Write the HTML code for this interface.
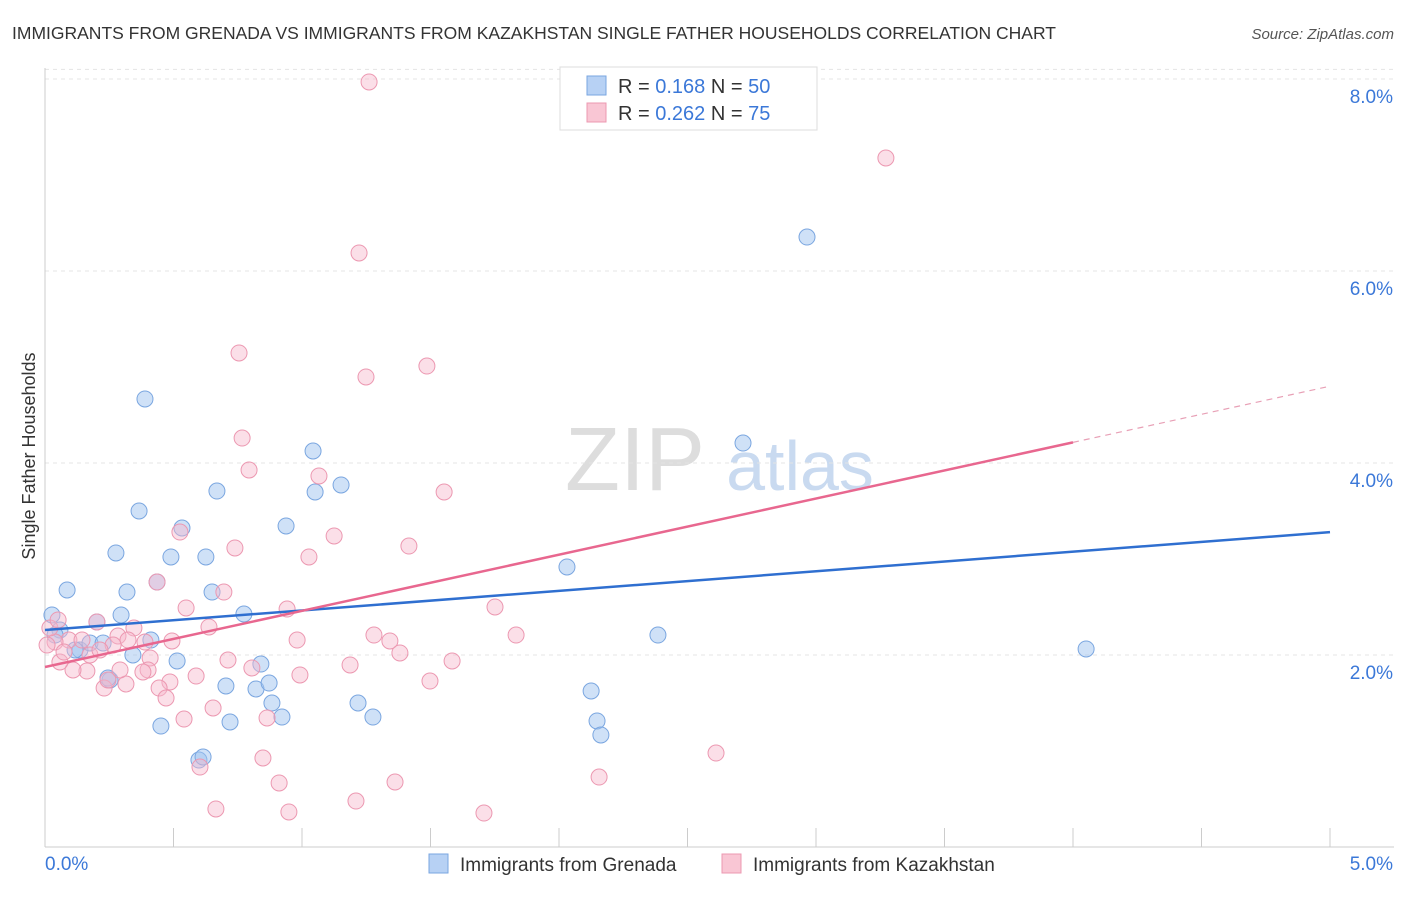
<!DOCTYPE html>
<html><head><meta charset="utf-8"><style>
body{margin:0;background:#fff;font-family:"Liberation Sans",sans-serif}
svg text{font-family:"Liberation Sans",sans-serif}
</style></head><body>
<svg id="c" width="1406" height="892">
<text x="12" y="39" font-size="17.5" fill="#333">IMMIGRANTS FROM GRENADA VS IMMIGRANTS FROM KAZAKHSTAN SINGLE FATHER HOUSEHOLDS CORRELATION CHART</text>
<text x="1394" y="39" font-size="15" fill="#555" font-style="italic" text-anchor="end">Source: ZipAtlas.com</text>
<text x="35" y="456" font-size="18" fill="#333" text-anchor="middle" transform="rotate(-90 35 456)">Single Father Households</text>
<g><text x="635" y="490" font-size="90" fill="#ddd" font-family="Liberation Serif" text-anchor="middle">ZIP</text><text x="800" y="490" font-size="70" fill="#c9daf0" text-anchor="middle">atlas</text></g>
<g id="grid"></g><g id="ticks"></g><g id="pts"></g><g id="lines"></g>
<g>
<rect x="560" y="67" width="257" height="63" fill="#fff" stroke="#ddd"/>
<rect x="587" y="76" width="19" height="19" fill="#b7d1f4" stroke="#7aa6e0"/>
<text x="618" y="93" font-size="20" fill="#333">R = <tspan fill="#3b78d8">0.168</tspan>   N = <tspan fill="#3b78d8">50</tspan></text>
<rect x="587" y="103" width="19" height="19" fill="#f9c6d4" stroke="#ec98b1"/>
<text x="618" y="120" font-size="20" fill="#333">R = <tspan fill="#3b78d8">0.262</tspan>   N = <tspan fill="#3b78d8">75</tspan></text>
</g>
<g>
<rect x="429" y="854" width="19" height="19" fill="#b7d1f4" stroke="#7aa6e0"/>
<text x="460" y="871" font-size="19" fill="#333">Immigrants from Grenada</text>
<rect x="722" y="854" width="19" height="19" fill="#f9c6d4" stroke="#ec98b1"/>
<text x="753" y="871" font-size="19" fill="#333">Immigrants from Kazakhstan</text>
</g>
</svg>
<script>
const yTicks=[2,4,6,8];
const yTickLabels=["2.0%","4.0%","6.0%","8.0%"];
const xTickLabels=["0.0%","5.0%"];
const bluePx=[[52,615],[67,590],[60,630],[55,635],[80,650],[90,643],[97,622],[103,643],[110,680],[116,553],[121,615],[127,592],[133,655],[139,511],[145,399],[151,640],[157,582],[161,726],[171,557],[177,661],[182,528],[199,760],[203,757],[206,557],[212,592],[217,491],[226,686],[230,722],[244,614],[256,689],[261,664],[269,683],[272,703],[282,717],[286,526],[313,451],[315,492],[341,485],[358,703],[373,717],[567,567],[591,691],[597,721],[601,735],[658,635],[743,443],[807,237],[1086,649],[75,650],[108,678]];
const pinkPx=[[369,82],[886,158],[359,253],[239,353],[366,377],[427,366],[242,438],[249,470],[319,476],[444,492],[334,536],[409,546],[235,548],[309,557],[180,532],[157,582],[224,592],[186,608],[287,609],[209,627],[134,628],[97,622],[118,636],[128,640],[145,642],[172,641],[297,640],[374,635],[390,641],[400,653],[516,635],[495,607],[452,661],[350,665],[228,660],[252,668],[300,675],[196,676],[150,658],[148,670],[143,672],[170,682],[159,688],[126,684],[104,688],[87,671],[73,670],[60,662],[69,640],[55,642],[50,628],[58,620],[108,680],[213,708],[184,719],[166,698],[267,718],[263,758],[200,767],[279,783],[216,809],[289,812],[356,801],[395,782],[484,813],[599,777],[716,753],[430,681],[64,652],[82,640],[113,645],[90,655],[100,650],[47,645],[120,670]];
// values (x %, y %) derived from the picture
const blueX=bluePx.map(p=>+((p[0]-45)/257).toFixed(3));
const blueY=bluePx.map(p=>+((847-p[1])/96).toFixed(3));
const pinkX=pinkPx.map(p=>+((p[0]-45)/257).toFixed(3));
const pinkY=pinkPx.map(p=>+((847-p[1])/96).toFixed(3));
const blueTrend=[2.26,3.28];
const pinkTrend=[1.875,4.80];
const X=v=>45+v*257, Y=v=>847-v*96;
const NS="http://www.w3.org/2000/svg";
function mk(tag,attrs,parent){const e=document.createElementNS(NS,tag);for(const k in attrs)e.setAttribute(k,attrs[k]);document.getElementById(parent).appendChild(e);return e;}
yTicks.forEach((t,i)=>{
 const g=mk('line',{x1:45,x2:1394,y1:Y(t),y2:Y(t),stroke:'#e4e4e4','stroke-dasharray':'4 4'},'grid');
 
 
 const l=mk('text',{x:1393,y:Y(t)+24,'font-size':19,fill:'#3b78d8','text-anchor':'end'},'ticks');l.textContent=yTickLabels[i];
 
 
});
mk('line',{x1:45,x2:1394,y1:Y(8.1),y2:Y(8.1),stroke:'#e4e4e4','stroke-dasharray':'4 4'},'grid');
mk('line',{x1:45,x2:45,y1:68,y2:847,stroke:'#ccc'},'ticks');
mk('line',{x1:45,x2:1394,y1:847,y2:847,stroke:'#ccc'},'ticks');
for(let i=0;i<=10;i++){mk('line',{x1:X(i*0.5),x2:X(i*0.5),y1:828,y2:847,stroke:'#ccc'},'ticks');}
[[0,45,'start'],[5,1393,'end']].forEach((d,i)=>{const t=mk('text',{x:d[1],y:870,'font-size':19,fill:'#3b78d8','text-anchor':d[2]},'ticks');t.textContent=xTickLabels[i];
 
 });
blueX.forEach((x,i)=>{const c=mk('circle',{cx:X(x),cy:Y(blueY[i]),r:8,fill:'rgba(160,196,240,0.5)',stroke:'#7aa6e0','stroke-width':1},'pts');
 
 });
pinkX.forEach((x,i)=>{const c=mk('circle',{cx:X(x),cy:Y(pinkY[i]),r:8,fill:'rgba(246,184,204,0.45)',stroke:'#ec98b1','stroke-width':1},'pts');
 
 });
let b=mk('line',{x1:X(0),y1:Y(blueTrend[0]),x2:X(5),y2:Y(blueTrend[1]),stroke:'#2f6fd0','stroke-width':2.5},'lines');


const pm=v=>pinkTrend[0]+(pinkTrend[1]-pinkTrend[0])*v/5;
let p=mk('line',{x1:X(0),y1:Y(pm(0)),x2:X(4),y2:Y(pm(4)),stroke:'#e8678f','stroke-width':2.5},'lines');


let pd=mk('line',{x1:X(4),y1:Y(pm(4)),x2:X(5),y2:Y(pm(5)),stroke:'#e8a0b6','stroke-width':1.2,'stroke-dasharray':'6 5'},'lines');


</script>
</body></html>
